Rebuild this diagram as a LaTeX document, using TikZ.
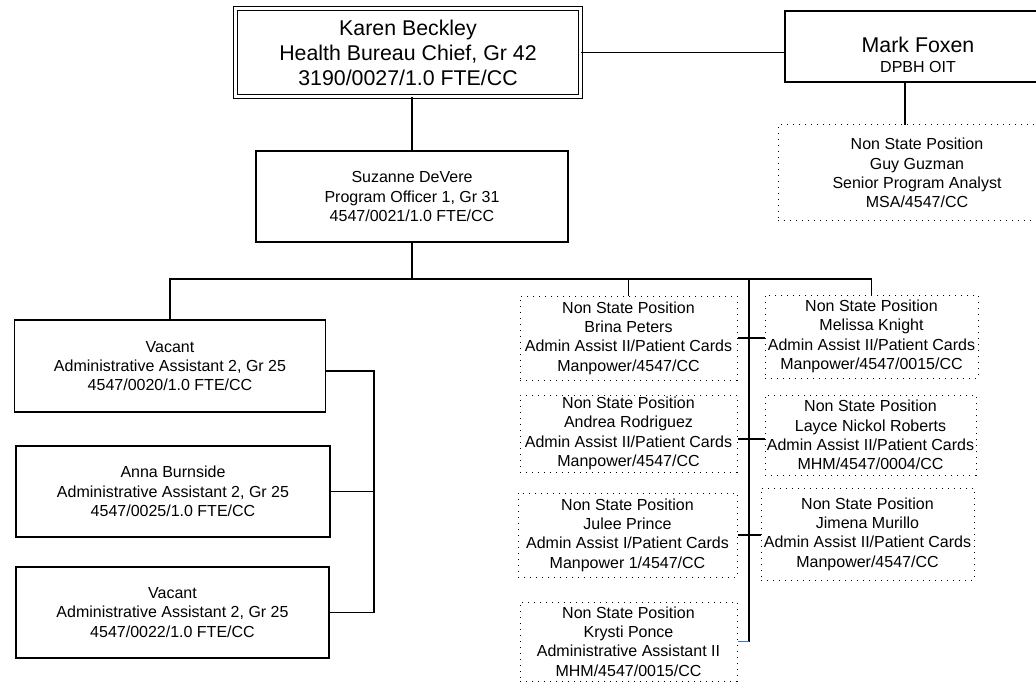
\documentclass[tikz,border=0pt]{standalone}
\usepackage{fontspec}
\setmainfont{Liberation Sans}
\usetikzlibrary{calc}
\definecolor{linkblue}{RGB}{68,114,196}
\tikzset{
  boxsize/.style 2 args={minimum width=#1*0.75pt,minimum height=#2*0.75pt},
  posbox/.style={draw,line width=1pt,rectangle,inner sep=0pt,align=center,font=\fontsize{12}{14.5}\selectfont},
  nsbox/.style={draw,line width=0.75pt,dash pattern=on 0.75pt off 3.75pt,rectangle,inner sep=0pt,align=center,font=\fontsize{12}{14.5}\selectfont},
  chiefbox/.style={posbox,double,double distance=2.4pt,line width=0.9pt,font=\fontsize{16}{18.75}\selectfont},
  link/.style={line width=1pt}
}
\def\posnode{\node[posbox]}
\def\nsnode{\node[nsbox]}
\begin{document}
\begin{tikzpicture}[x=0.75pt,y=-0.75pt]
\useasboundingbox (0,0) rectangle (1036,688);
\clip (0,0) rectangle (1036,688);
\node[chiefbox,boxsize={345}{88}] (karen) at (408,52.5) {Karen Beckley\\Health Bureau Chief, Gr 42\\3190/0027/1.0 FTE/CC};
\posnode[boxsize={266}{71}] (mark) at (918,46.5) {\rule{0pt}{24pt}{\fontsize{16}{18.75}\selectfont Mark Foxen}\\DPBH OIT};
\nsnode[boxsize={278}{96}] (guy) at (917,173) {Non State Position\\Guy Guzman\\Senior Program Analyst\\MSA/4547/CC};
\posnode[boxsize={312}{91}] (suzanne) at (412,196.5) {Suzanne DeVere\\Program Officer 1, Gr 31\\4547/0021/1.0 FTE/CC};
\posnode[boxsize={311}{92}] (vacanta) at (170,366) {Vacant\\Administrative Assistant 2, Gr 25\\4547/0020/1.0 FTE/CC};
\posnode[boxsize={314}{91}] (anna) at (173,491.5) {Anna Burnside\\Administrative Assistant 2, Gr 25\\4547/0025/1.0 FTE/CC};
\posnode[boxsize={313}{91}] (vacantc) at (172.5,612.5) {Vacant\\Administrative Assistant 2, Gr 25\\4547/0022/1.0 FTE/CC};
\nsnode[boxsize={217}{84}] (brina) at (628.5,338) {Non State Position\\Brina Peters\\Admin Assist II/Patient Cards\\Manpower/4547/CC};
\nsnode[boxsize={217}{77}] (andrea) at (628.5,433.5) {Non State Position\\Andrea Rodriguez\\Admin Assist II/Patient Cards\\Manpower/4547/CC};
\nsnode[boxsize={219}{84}] (julee) at (627.5,535) {Non State Position\\Julee Prince\\Admin Assist I/Patient Cards\\Manpower 1/4547/CC};
\nsnode[boxsize={217}{79}] (krysti) at (628.5,641.5) {Non State Position\\Krysti Ponce\\Administrative Assistant II\\MHM/4547/0015/CC};
\nsnode[boxsize={213}{83}] (melissa) at (871.5,336.5) {Non State Position\\Melissa Knight\\Admin Assist II/Patient Cards\\Manpower/4547/0015/CC};
\nsnode[boxsize={211}{80}] (layce) at (870.5,435) {Non State Position\\Layce Nickol Roberts\\Admin Assist II/Patient Cards\\MHM/4547/0004/CC};
\nsnode[boxsize={213}{92}] (jimena) at (867.5,534) {Non State Position\\Jimena Murillo\\Admin Assist II/Patient Cards\\Manpower/4547/CC};
\coordinate (gtop) at (905,125);
\coordinate (bus) at (410,279);
\coordinate (trunk) at (749,279);
\coordinate (brk) at (374,371);
\coordinate (alrow) at (749,439);
\draw[link] (karen.east) -- (karen.east -| mark.west);
\draw[link] (suzanne.north) -- (suzanne.north |- karen.south);
\draw[link] (gtop) -- (gtop |- mark.south);
\draw[link] (suzanne.south) -- (suzanne.south |- bus);
\draw[link] (vacanta.north) -- (vacanta.north |- bus) -- (bus -| melissa.north) -- (melissa.north);
\draw[link] (bus -| brina.north) -- (brina.north);
\draw[link] (trunk) -- (trunk |- krysti.east);
\draw[link,linkblue] (krysti.east) -- (krysti.east -| trunk);
\draw[link] (brina.east) -- (brina.east -| melissa.west);
\draw[link] (andrea.east |- alrow) -- (alrow -| layce.west);
\draw[link] (julee.east) -- (julee.east -| jimena.west);
\draw[link] (vacanta.east |- brk) -- (brk) -- (brk |- vacantc.east) -- (vacantc.east);
\draw[link] (anna.east) -- (anna.east -| brk);
\end{tikzpicture}
\end{document}
